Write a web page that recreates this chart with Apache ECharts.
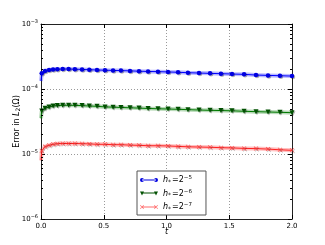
<!DOCTYPE html>
<html>
<head>
<meta charset="utf-8">
<script src="https://cdn.jsdelivr.net/npm/echarts@6/dist/echarts.min.js"></script>
<style>html,body{margin:0;padding:0;background:#fff}#c{width:325px;height:245px}</style>
</head>
<body>
<div id="c"></div>
<script>
// ---- data ----
const tValues = [0, 0.006, 0.032, 0.064, 0.096, 0.13, 0.173, 0.22, 0.27, 0.327, 0.385, 0.446, 0.51, 0.574, 0.637, 0.709, 0.781, 0.853, 0.932, 1.012, 1.092, 1.171, 1.259, 1.347, 1.434, 1.522, 1.618, 1.713, 1.809, 1.904, 2.0];
const errH5 = [1.33e-4, 1.74e-4, 1.89e-4, 1.96e-4, 2.00e-4, 2.02e-4, 2.03e-4, 2.03e-4, 2.02e-4, 2.00e-4, 1.98e-4, 1.96e-4, 1.95e-4, 1.93e-4, 1.92e-4, 1.90e-4, 1.88e-4, 1.86e-4, 1.85e-4, 1.83e-4, 1.81e-4, 1.78e-4, 1.76e-4, 1.74e-4, 1.72e-4, 1.70e-4, 1.68e-4, 1.64e-4, 1.62e-4, 1.60e-4, 1.58e-4];
const errH6 = [3.54e-5, 4.59e-5, 5.05e-5, 5.28e-5, 5.47e-5, 5.55e-5, 5.61e-5, 5.62e-5, 5.60e-5, 5.55e-5, 5.47e-5, 5.42e-5, 5.30e-5, 5.26e-5, 5.20e-5, 5.14e-5, 5.08e-5, 5.02e-5, 4.96e-5, 4.92e-5, 4.87e-5, 4.81e-5, 4.75e-5, 4.70e-5, 4.66e-5, 4.62e-5, 4.54e-5, 4.48e-5, 4.43e-5, 4.38e-5, 4.32e-5];
const errH7 = [0.80e-5, 1.12e-5, 1.30e-5, 1.36e-5, 1.41e-5, 1.44e-5, 1.45e-5, 1.45e-5, 1.45e-5, 1.44e-5, 1.43e-5, 1.41e-5, 1.41e-5, 1.39e-5, 1.39e-5, 1.37e-5, 1.36e-5, 1.34e-5, 1.34e-5, 1.33e-5, 1.31e-5, 1.29e-5, 1.28e-5, 1.27e-5, 1.25e-5, 1.24e-5, 1.22e-5, 1.21e-5, 1.19e-5, 1.16e-5, 1.14e-5];
const seriesNames = ['h5', 'h6', 'h7'];
const seriesExps = ['\u22125', '\u22126', '\u22127'];
const xTicks = [0, 0.5, 1.0, 1.5, 2.0];
const yMin = 1e-6, yMax = 1e-3;
const minorTickValues = [];
for (let e = -6; e <= -4; e++) for (let k = 2; k <= 9; k++) minorTickValues.push(k * Math.pow(10, e));

const FONT = 'DejaVu Sans';
const colors = ['#0000ff', '#007a00', '#ff2020'];
const markerColors = ['#0000e0', '#005000', 'rgba(255,60,60,0.75)'];
const xPath = 'path://M0 0.5 L0.5 0 L4 3.5 L3.5 4 Z M0 3.5 L3.5 0 L4 0.5 L0.5 4 Z';
const symbols = ['circle', 'triangle', xPath];
const symbolSizes = [4.5, 5, 4.5];
const legendIcons = [
  'path://M2 1.6 L16 1.6 L16 2.4 L2 2.4 Z M0 2 A2 2 0 1 0 4 2 A2 2 0 1 0 0 2 Z M14 2 A2 2 0 1 0 18 2 A2 2 0 1 0 14 2 Z',
  'path://M2 1.1 L16 1.1 L16 1.9 L2 1.9 Z M0 0 L4 0 L2 4 Z M14 0 L18 0 L16 4 Z',
  'path://M2 1.6 L16 1.6 L16 2.4 L2 2.4 Z M0 0.5 L0.5 0 L4 3.5 L3.5 4 Z M0 3.5 L3.5 0 L4 0.5 L0.5 4 Z M14 0.5 L14.5 0 L18 3.5 L17.5 4 Z M14 3.5 L17.5 0 L18 0.5 L14.5 4 Z'
];
const allData = [errH5, errH6, errH7];

function pairs(arr) {
  return tValues.map((t, i) => i === 0 ? { value: [t, arr[i]], symbol: 'none' } : [t, arr[i]]);
}

const series = [];
allData.forEach((arr, i) => {
  series.push({
    name: seriesNames[i] + '_halo', type: 'line', data: tValues.map((t, j) => [t, arr[j]]),
    showSymbol: false, silent: true, z: 2,
    lineStyle: { color: colors[i], width: 4, opacity: 0.28 }
  });
  series.push({
    name: seriesNames[i], type: 'line', data: pairs(arr), z: 3,
    symbol: symbols[i], symbolSize: symbolSizes[i], symbolRotate: i === 1 ? 180 : 0,
    showAllSymbol: true,
    lineStyle: { color: colors[i], width: 1 },
    itemStyle: { color: markerColors[i], shadowColor: 'rgba(0,0,0,0.3)', shadowOffsetX: 1, shadowOffsetY: 1 }
  });
});
// minor ticks on log axis (left & right), placed via the axis scale
series.push({
  type: 'custom', silent: true, z: 5,
  data: minorTickValues.map(v => [0, v]),
  renderItem: function (params, api) {
    const cs = params.coordSys;
    const y = Math.round(api.coord([0, api.value(1)])[1]) + 0.5;
    return { type: 'group', children: [
      { type: 'line', shape: { x1: cs.x, y1: y, x2: cs.x + 2, y2: y }, style: { stroke: '#000', lineWidth: 1 } },
      { type: 'line', shape: { x1: cs.x + cs.width - 2, y1: y, x2: cs.x + cs.width, y2: y }, style: { stroke: '#000', lineWidth: 1 } }
    ]};
  }
});

function legendText(name) {
  const i = seriesNames.indexOf(name);
  return '{i|h}{s|*}{n|=2}{p|' + seriesExps[i] + '}';
}

const lblStyle = { fontFamily: FONT, fontSize: 7, color: '#000' };
const option = {
  animation: false,
  backgroundColor: '#fff',
  grid: { left: 41, top: 24, right: 33, bottom: 26, containLabel: false, outerBoundsMode: 'none' },
  legend: {
    orient: 'vertical', left: 137, top: 171,
    data: seriesNames.map((n, i) => ({ name: n, icon: legendIcons[i] })),
    itemWidth: 18, itemHeight: 4, itemGap: 3.5,
    padding: [4, 14, 3, 3],
    backgroundColor: '#fff', borderColor: '#555', borderWidth: 1, borderRadius: 0,
    formatter: legendText,
    textStyle: {
      fontFamily: FONT, fontSize: 8, color: '#000',
      rich: {
        i: { fontFamily: FONT, fontSize: 8, fontStyle: 'italic', height: 11 },
        s: { fontFamily: FONT, fontSize: 6, verticalAlign: 'bottom', height: 11, padding: [4, 1, 0, 0] },
        n: { fontFamily: FONT, fontSize: 8, height: 11 },
        p: { fontFamily: FONT, fontSize: 5.5, verticalAlign: 'top', height: 11, padding: [0, 0, 4, 0] }
      }
    }
  },
  xAxis: [{
    type: 'value', min: 0, max: 2, interval: 0.5,
    name: 't', nameLocation: 'middle', nameGap: 9, nameMoveOverlap: false,
    nameTextStyle: { fontFamily: FONT, fontSize: 8, fontStyle: 'italic', color: '#000', verticalAlign: 'top' },
    axisLine: { show: true, onZero: false, lineStyle: { color: '#222', width: 1 } },
    axisTick: { show: true, inside: true, length: 4, lineStyle: { color: '#000' } },
    axisLabel: Object.assign({ margin: 4, formatter: v => v.toFixed(1) }, lblStyle),
    splitLine: { show: true, lineStyle: { color: '#999', type: [1, 2], width: 1 } }
  }, {
    type: 'value', min: 0, max: 2, interval: 0.5, position: 'top',
    axisLine: { show: true, onZero: false, lineStyle: { color: '#222', width: 1 } },
    axisTick: { show: true, inside: true, length: 4, lineStyle: { color: '#000' } },
    axisLabel: { show: false }, splitLine: { show: false }
  }],
  yAxis: [{
    type: 'log', logBase: 10, min: yMin, max: yMax,
    name: '{n|Error in }{i|L}{s|2}{n|(\u03A9)}', nameLocation: 'middle', nameGap: 17, nameRotate: 90,
    nameMoveOverlap: false,
    nameTextStyle: {
      fontFamily: FONT, fontSize: 8, color: '#000',
      rich: {
        n: { fontFamily: FONT, fontSize: 8, height: 11 },
        i: { fontFamily: FONT, fontSize: 8, fontStyle: 'italic', height: 11 },
        s: { fontFamily: FONT, fontSize: 6, verticalAlign: 'bottom', height: 11, padding: [4, 0, 0, 0] }
      }
    },
    axisLine: { show: true, onZero: false, lineStyle: { color: '#222', width: 1 } },
    axisTick: { show: true, inside: true, length: 4, lineStyle: { color: '#000' } },
    axisLabel: Object.assign({
      margin: 3,
      formatter: v => '{b|10}{p|' + String(Math.round(Math.log10(v))).replace('-', '\u2212') + '}',
      rich: {
        b: { fontFamily: FONT, fontSize: 7, height: 10 },
        p: { fontFamily: FONT, fontSize: 5, verticalAlign: 'top', height: 10, padding: [0, 0, 4, 0] }
      }
    }, lblStyle),
    splitLine: { show: true, lineStyle: { color: '#999', type: [1, 2], width: 1 } }
  }, {
    type: 'log', logBase: 10, min: yMin, max: yMax, position: 'right',
    axisLine: { show: true, onZero: false, lineStyle: { color: '#222', width: 1 } },
    axisTick: { show: true, inside: true, length: 4, lineStyle: { color: '#000' } },
    axisLabel: { show: false }, splitLine: { show: false }
  }],
  series: series
};
echarts.init(document.getElementById('c'), null, { renderer: 'canvas' }).setOption(option);
</script>
</body>
</html>
